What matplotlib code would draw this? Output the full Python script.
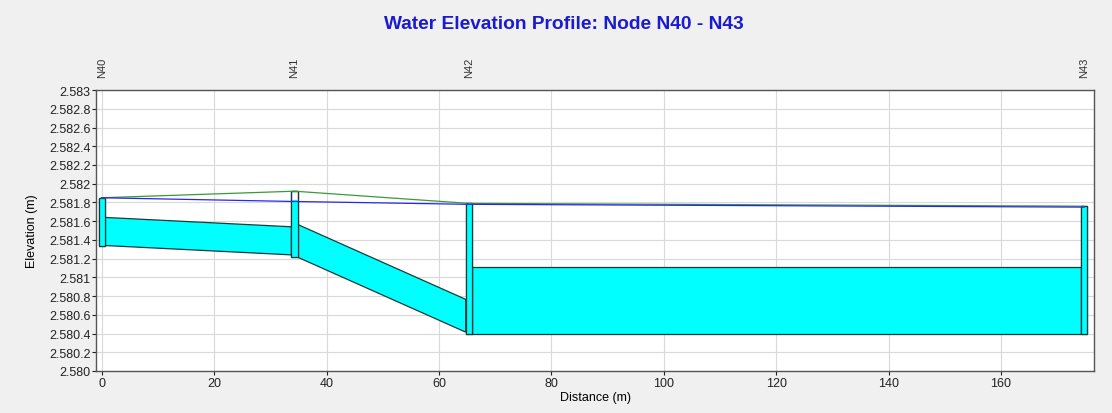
import numpy as np
import matplotlib.pyplot as plt
from matplotlib.patches import Rectangle, Polygon
from matplotlib.ticker import FuncFormatter

plt.rcParams['font.family'] = ['Liberation Sans', 'DejaVu Sans']

# nodes
node_names = ["N40", "N41", "N42", "N43"]
node_dist = [0.0, 34.3, 65.3, 174.8]
node_invert = [2581.34, 2581.22, 2580.40, 2580.40]
node_rim = [2581.85, 2581.92, 2581.79, 2581.76]
node_water = [2581.85, 2581.83, 2581.78, 2581.75]

# conduits (upstream / downstream invert, diameter)
pipe_up_inv = [2581.34, 2581.215, 2580.40]
pipe_dn_inv = [2581.24, 2580.415, 2580.40]
pipe_diam = [0.30, 0.35, 0.71]

hgl = [2581.85, 2581.81, 2581.78, 2581.75]

y_ticks = [2580.0, 2580.2, 2580.4, 2580.6, 2580.8, 2581.0, 2581.2, 2581.4,
           2581.6, 2581.8, 2582.0, 2582.2, 2582.4, 2582.6, 2582.8, 2583.0]
x_ticks = [0, 20, 40, 60, 80, 100, 120, 140, 160]

bg = '#f0f0f0'
cyan = '#00ffff'
edge = '#1a3a3a'
nw = 1.1  # node box width (m)

fig = plt.figure(figsize=(11.12, 4.14), dpi=100, facecolor=bg)
ax = fig.add_axes([0.0865, 0.1015, 0.8975, 0.6785])
ax.set_facecolor('white')

# pipes
for i in range(len(pipe_diam)):
    x0 = node_dist[i] + nw / 2
    x1 = node_dist[i + 1] - nw / 2
    b0, b1 = pipe_up_inv[i], pipe_dn_inv[i]
    t0, t1 = b0 + pipe_diam[i], b1 + pipe_diam[i]
    ax.add_patch(Polygon([[x0, b0], [x1, b1], [x1, t1], [x0, t0]],
                         closed=True, facecolor=cyan, edgecolor=edge, lw=0.9, zorder=3))

# nodes
for i in range(len(node_names)):
    x = node_dist[i] - nw / 2
    ax.add_patch(Rectangle((x, node_invert[i]), nw, node_rim[i] - node_invert[i],
                           facecolor='white', edgecolor=edge, lw=0.9, zorder=4))
    ax.add_patch(Rectangle((x, node_invert[i]), nw, node_water[i] - node_invert[i],
                           facecolor=cyan, edgecolor='none', zorder=4))
    ax.add_patch(Rectangle((x, node_invert[i]), nw, node_rim[i] - node_invert[i],
                           facecolor='none', edgecolor=edge, lw=0.9, zorder=5))

# ground and hydraulic grade lines
ax.plot(node_dist, node_rim, color='#3a9a3a', lw=0.9, zorder=6)
ax.plot(node_dist, hgl, color='#2828e6', lw=0.9, zorder=6)

ax.set_xlim(-1.0, 176.6)
ax.set_ylim(2580.0, 2583.0)
ax.set_xticks(x_ticks)
ax.set_yticks(y_ticks)


def fmt(v, pos):
    s = f"{v:,.1f}".replace(",", ".")
    if s.endswith(".0"):
        s = s[:-2]
    if v == 2580.0:
        s = "2.580"
    return s


ax.yaxis.set_major_formatter(FuncFormatter(fmt))
ax.grid(True, color='#d9d9d9', lw=0.8, zorder=0)
ax.set_axisbelow(True)
ax.tick_params(labelsize=9, colors='#222222', length=3, pad=1)
for s in ax.spines.values():
    s.set_color('#555555')
    s.set_linewidth(1.0)

ax.set_xlabel("Distance (m)", fontsize=9, labelpad=2)
ax.set_ylabel("Elevation (m)", fontsize=9, labelpad=8)

for i in range(len(node_names)):
    ax.text(node_dist[i], 2583.0 + 0.14, node_names[i], rotation=90,
            ha='center', va='bottom', fontsize=8, color='#333333', clip_on=False)

fig.text(0.507, 0.940, "Water Elevation Profile: Node N40 - N43", ha='center', va='center',
         fontsize=13.8, fontweight='bold', color='#1a1ad0')

fig.savefig("out.png", dpi=100, facecolor=bg)
